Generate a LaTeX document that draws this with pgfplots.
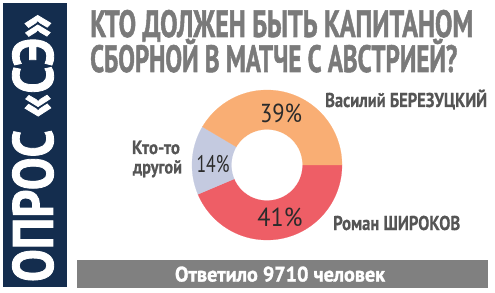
\documentclass[border=0pt]{standalone}
\usepackage{pgfplots}
\pgfplotsset{compat=1.18}
\usepackage{pgfplotstable}
\usepackage{graphicx}
\usepackage{fontspec}
\setmainfont{PT Sans}
\newfontfamily\heavy[BoldFeatures={FakeBold=1.6}]{PT Sans}
\newfontfamily\semi[BoldFeatures={FakeBold=0.6}]{PT Sans}
\definecolor{navy}{HTML}{142D4E}
\definecolor{ttl}{HTML}{7A7A7A}
\definecolor{barg}{HTML}{808080}
\definecolor{sOr}{HTML}{F9AE74}
\definecolor{sRd}{HTML}{EE5E66}
\definecolor{sLv}{HTML}{C4CAE0}
\definecolor{lbl}{HTML}{555555}
\definecolor{pct}{HTML}{2B2B2B}
\newcommand\fitw[2]{\resizebox{#1}{\height}{#2}}
\pgfplotstableread{
label value
Roman 41
Other 14
Vasily 39
}\slicedata
\begin{document}
\begin{tikzpicture}[x=1pt,y=1pt]
\useasboundingbox (0,0) rectangle (495,292);
\pgfplotstablegetelem{0}{value}\of\slicedata \edef\vR{\pgfplotsretval}
\pgfplotstablegetelem{1}{value}\of\slicedata \edef\vO{\pgfplotsretval}
\pgfplotstablegetelem{2}{value}\of\slicedata \edef\vV{\pgfplotsretval}
\pgfmathsetmacro\tot{\vR+\vO+\vV}
\pgfmathsetmacro\aR{-360*\vR/\tot}
\pgfmathsetmacro\aO{\aR-360*\vO/\tot}
% left bar
\fill[navy] (3,5) rectangle (67,289);
\node[rotate=90, inner sep=0, text=white] at (33,144)
  {\fitw{268pt}{\fontsize{57}{57}\selectfont\heavy\bfseries ОПРОС «СЭ»}};
% title
\node[anchor=base west, inner sep=0, text=ttl] at (90,255)
  {\fitw{383pt}{\fontsize{38}{38}\selectfont\heavy\bfseries КТО ДОЛЖЕН БЫТЬ КАПИТАНОМ}};
\node[anchor=base west, inner sep=0, text=ttl] at (90,220)
  {\fitw{367pt}{\fontsize{38}{38}\selectfont\heavy\bfseries СБОРНОЙ В МАТЧЕ С АВСТРИЕЙ?}};
% bottom bar
\fill[barg] (77,4) rectangle (488,32);
\node[anchor=base, inner sep=0, text=white] at (280,10.5)
  {\fitw{210pt}{\fontsize{21}{21}\selectfont\heavy\bfseries Ответило 9710 человек}};
% donut
\begin{axis}[at={(267pt,127pt)}, anchor=center, width=150pt, height=150pt,
  scale only axis, hide axis, xmin=-1, xmax=1, ymin=-1, ymax=1, clip=false]
\addplot[fill=sRd, draw=sRd, line width=0.2pt, domain=\aR:0, samples=80, variable=\t]
  ({cos(\t)},{sin(\t)}) -- (axis cs:0,0) -- cycle;
\addplot[fill=sLv, draw=sLv, line width=0.2pt, domain=\aO:\aR, samples=40, variable=\t]
  ({cos(\t)},{sin(\t)}) -- (axis cs:0,0) -- cycle;
\addplot[fill=sOr, draw=sOr, line width=0.2pt, domain=-360:\aO, samples=80, variable=\t]
  ({cos(\t)},{sin(\t)}) -- (axis cs:0,0) -- cycle;
\addplot[fill=white, draw=white, line width=0.2pt, domain=0:360, samples=120, variable=\t]
  ({0.47*cos(\t)},{0.47*sin(\t)}) -- cycle;
\node[inner sep=0, text=pct, anchor=base] at (axis cs:0.187,0.56)
  {\fitw{42pt}{\fontsize{26}{26}\selectfont 39\%}};
\node[inner sep=0, text=pct, anchor=base] at (axis cs:0.173,-0.82)
  {\fitw{45pt}{\fontsize{26}{26}\selectfont 41\%}};
\node[inner sep=0, text=pct, anchor=base] at (axis cs:-0.72,-0.10)
  {\fitw{33pt}{\fontsize{24}{24}\selectfont 14\%}};
\end{axis}
% outside labels
\node[anchor=base west, inner sep=0, text=lbl] at (325,185)
  {\fitw{162pt}{\fontsize{20}{20}\selectfont\semi\bfseries Василий БЕРЕЗУЦКИЙ}};
\node[anchor=base west, inner sep=0, text=lbl] at (333,62)
  {\fitw{127pt}{\fontsize{20}{20}\selectfont\semi\bfseries Роман ШИРОКОВ}};
\node[anchor=base, inner sep=0, text=lbl] at (156,138)
  {\fitw{48pt}{\fontsize{19}{19}\selectfont\semi\bfseries Кто-то}};
\node[anchor=base, inner sep=0, text=lbl] at (157.5,118.5)
  {\fitw{49pt}{\fontsize{19}{19}\selectfont\semi\bfseries другой}};
\end{tikzpicture}
\end{document}
